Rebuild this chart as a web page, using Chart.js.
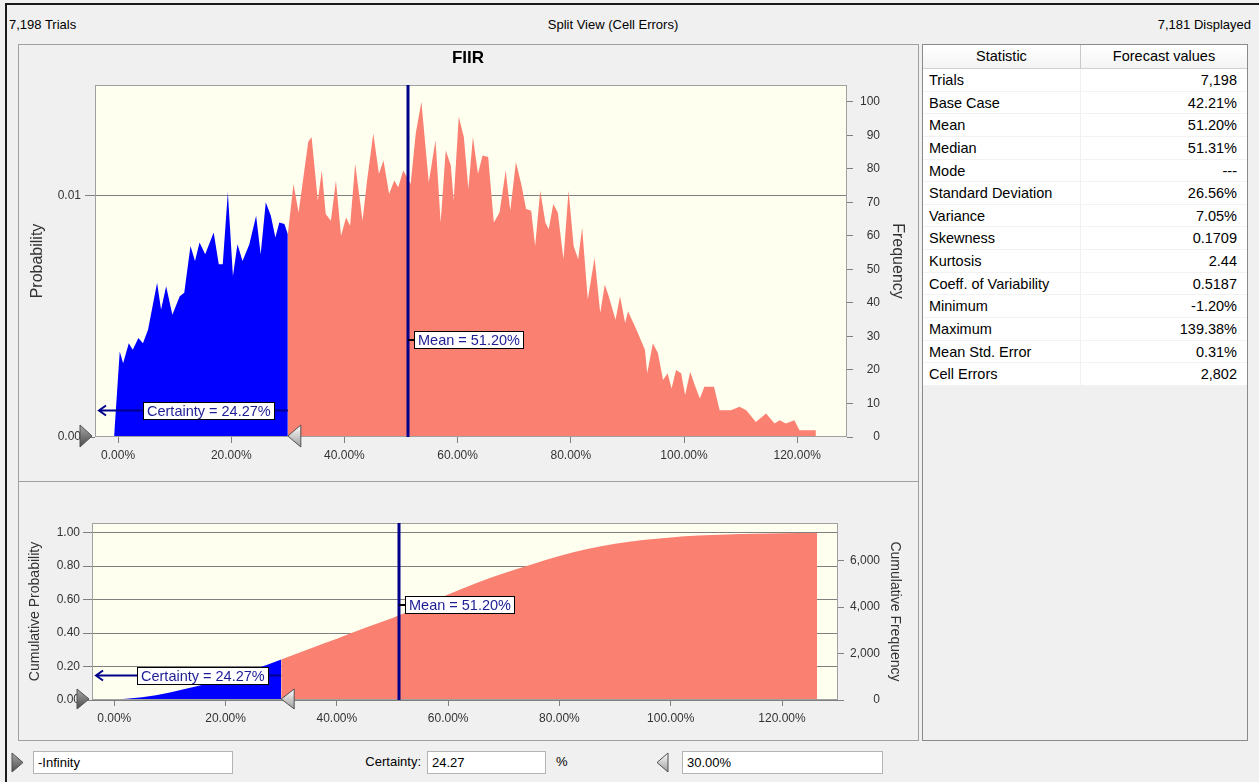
<!DOCTYPE html>
<html>
<head>
<meta charset="utf-8">
<title>FIIR</title>
<script src="https://cdn.jsdelivr.net/npm/chart.js@4.4.1/dist/chart.umd.min.js"></script>
<style>
  html, body { margin: 0; padding: 0; }
  body {
    width: 1259px; height: 782px; position: relative; overflow: hidden;
    background: #f0f0f0; color: #000;
    font-family: "Liberation Sans", Arial, sans-serif;
  }
  #frame { position: absolute; left: 5px; top: 3px; right: 0; bottom: 0;
           border-left: 2px solid #1a1a1a; border-top: 2px solid #1a1a1a; }
  .hdr { position: absolute; top: 17px; font-size: 13px; line-height: 16px; white-space: nowrap; }
  .panel { position: absolute; border: 1px solid #a0a0a0; box-sizing: border-box; }
  canvas { position: absolute; }
  #stats { position: absolute; left: 922px; top: 44px; width: 326px; height: 697px;
           border: 1px solid #8a8a8a; box-sizing: border-box; background: #f0f0f0; font-size: 14.5px; }
  #stats .row { display: flex; height: 22.65px; line-height: 22.65px; background: #fff;
                border-bottom: 1px solid #f2f2f2; box-sizing: border-box; }
  #stats .head { height: 24px; line-height: 23px; background: linear-gradient(#ffffff, #f4f4f4);
                 border-bottom: 1px solid #d0d0d0; }
  #stats .c1 { width: 158px; padding-left: 6px; box-sizing: border-box; border-right: 1px solid #f0f0f0; white-space: nowrap; }
  #stats .c2 { flex: 1; text-align: right; padding-right: 10px; white-space: nowrap; }
  #stats .head .c1 { text-align: center; padding-left: 0; border-right: 1px solid #c8c8c8; }
  #stats .head .c2 { text-align: center; padding-right: 0; }
  .field { position: absolute; top: 751px; height: 23px; background: #fff; border: 1px solid #b4b4b4;
           box-sizing: border-box; font-size: 13px; line-height: 21px; padding-left: 4px; white-space: nowrap; }
  .ctl { position: absolute; top: 754px; font-size: 13px; line-height: 16px; white-space: nowrap; }
  svg.grip { position: absolute; }
</style>
</head>
<body>
<div id="frame"></div>

<div class="hdr" id="trialsText" style="left:9px"></div>
<div class="hdr" style="left:0; width:1226px; text-align:center">Split View (Cell Errors)</div>
<div class="hdr" id="shownText" style="right:8px"></div>

<div class="panel" style="left:18px; top:44px; width:901px; height:438px"></div>
<div class="panel" style="left:18px; top:481px; width:901px; height:260px"></div>

<canvas id="pdfChart" width="900" height="436" style="left:18px; top:44px; width:900px; height:436px"></canvas>
<canvas id="cdfChart" width="900" height="258" style="left:18px; top:482px; width:900px; height:258px"></canvas>

<div id="stats"></div>

<svg class="grip" style="left:11px; top:752px" width="13" height="21" viewBox="0 0 13 21">
  <defs><linearGradient id="gDark" x1="0" y1="0" x2="0" y2="1">
    <stop offset="0" stop-color="#a8a8a8"/><stop offset="1" stop-color="#4c4c4c"/></linearGradient></defs>
  <path d="M1 1 L12 10.5 L1 20 Z" fill="url(#gDark)" stroke="#505050" stroke-width="1"/>
</svg>
<div class="field" id="lowField" style="left:33px; width:200px"></div>
<div class="ctl" style="left:340px; width:81px; text-align:right">Certainty:</div>
<div class="field" id="certField" style="left:427px; width:119px"></div>
<div class="ctl" style="left:556px">%</div>
<svg class="grip" style="left:656px; top:752px" width="13" height="21" viewBox="0 0 13 21">
  <defs><linearGradient id="gLight" x1="0" y1="0" x2="0" y2="1">
    <stop offset="0" stop-color="#ffffff"/><stop offset="1" stop-color="#9c9c9c"/></linearGradient></defs>
  <path d="M12 1 L1 10.5 L12 20 Z" fill="url(#gLight)" stroke="#505050" stroke-width="1"/>
</svg>
<div class="field" id="highField" style="left:682px; width:201px"></div>

<script>
// ---- forecast summary ----
const trials = 7198;
const displayed = 7181;
const meanPct = 51.20;
const certaintyPct = 24.27;
const certaintyLow = '-Infinity';
const certaintyHigh = 30;          // upper bound of the certainty range, in %

// ---- frequency histogram (bin position in %, trials per bin) ----
const binPct = [
  -0.7, 0.3, 0.9, 1.9, 2.6, 3.6, 4.4, 5.3, 6.9, 7.6, 8.5, 9.6, 10.9, 11.7, 12.8, 13.6,
  14.4, 15.4, 16.9, 17.8, 18.5, 19.4, 20.3, 21.1, 22.0, 23.2, 24.4, 25.2, 26.1, 27.0,
  27.8, 28.5, 29.4, 30.0,
  31.0, 31.9, 33.6, 34.2, 35.3, 36.0, 36.7, 37.6, 38.5, 39.4, 40.3, 41.0, 41.9, 43.2,
  44.0, 45.1, 46.1, 46.9, 47.9, 48.8, 49.5, 50.4, 51.7, 52.6, 53.6, 54.9, 56.1, 57.0,
  57.9, 58.8, 59.3, 60.2, 61.1, 61.9, 62.7, 63.6, 64.4, 65.4, 66.4, 67.4, 68.5, 69.3,
  70.3, 71.3, 72.1, 73.0, 73.7, 74.6, 75.5, 76.1, 76.9, 77.7, 78.7, 79.6, 80.5, 81.3,
  82.0, 83.0, 84.2, 85.2, 86.0, 86.7, 87.9, 88.7, 89.6, 90.1, 91.6, 93.1, 93.5, 94.5,
  95.4, 96.3, 97.1, 97.8, 98.6, 99.5, 100.2, 101.1, 101.9, 102.8, 103.6, 105.3, 106.3,
  108.3, 109.8, 111.0, 112.7, 114.5, 116.0, 116.9, 118.0, 119.5, 120.4, 123.3, 123.3
];
const binFreq = [
  0, 25.5, 22, 28, 26, 29.5, 28, 32, 46, 38, 45, 36.5, 42, 43, 57, 52.5,
  58, 54.5, 61, 51.5, 51.5, 73, 48, 57.5, 52.5, 57.5, 66, 54.5, 70, 66,
  59.5, 64, 63.5, 60.5,
  75.5, 67, 88, 89.5, 70.5, 79.5, 66.5, 64.5, 76.5, 60, 65.5, 63, 81.5, 64.5,
  76.5, 90.5, 78.5, 82.5, 72.5, 76.5, 74.5, 79.5, 75.5, 90.5, 100, 76, 88.5, 64,
  85.5, 81, 70.5, 95.5, 89.5, 74, 89.5, 78.5, 84, 83.5, 64, 67, 79.5, 67.5,
  82, 75, 68, 67.5, 57, 73.5, 64, 62, 69.5, 67, 53, 73.5, 57, 53,
  62.5, 41, 53.5, 37, 45.5, 42, 35, 42, 34, 37.5, 32, 26, 19, 28,
  25, 17, 19, 14.5, 20, 19, 12.5, 19.5, 15.5, 11.5, 15, 15, 8,
  8, 9, 8, 4.5, 7, 4, 5, 4, 5, 2, 2, 0
];

// ---- cumulative curve (position in %, cumulative probability) ----
const cumPct  = [-0.7, 5, 10, 15, 20, 25, 30, 35, 40, 45, 50, 55, 60, 65, 70, 75, 80, 85, 90, 95, 100, 105, 110, 115, 120, 126.3];
const cumProb = [0, 0.016, 0.045, 0.083, 0.127, 0.182, 0.2427, 0.305, 0.366, 0.430, 0.490, 0.560, 0.630, 0.698, 0.758,
                 0.810, 0.860, 0.902, 0.934, 0.956, 0.972, 0.983, 0.990, 0.994, 0.9965, 0.9976];

// ---- axis ticks ----
const xTicks = [0, 20, 40, 60, 80, 100, 120];
const probTicks = [0, 0.01];
const freqTicks = [0, 10, 20, 30, 40, 50, 60, 70, 80, 90, 100];
const cumProbTicks = [0, 0.2, 0.4, 0.6, 0.8, 1.0];
const cumFreqTicks = [0, 2000, 4000, 6000];

// ---- statistics table ----
const statNames = ['Trials', 'Base Case', 'Mean', 'Median', 'Mode', 'Standard Deviation', 'Variance',
  'Skewness', 'Kurtosis', 'Coeff. of Variability', 'Minimum', 'Maximum', 'Mean Std. Error', 'Cell Errors'];
const statValues = ['7,198', '42.21%', '51.20%', '51.31%', '---', '26.56%', '7.05%',
  '0.1709', '2.44', '0.5187', '-1.20%', '139.38%', '0.31%', '2,802'];

// ---------------------------------------------------------------------------
const fmtInt = v => Math.round(v).toLocaleString('en-US');
document.getElementById('trialsText').textContent = fmtInt(trials) + ' Trials';
document.getElementById('shownText').textContent = fmtInt(displayed) + ' Displayed';
document.getElementById('lowField').textContent = certaintyLow;
document.getElementById('certField').textContent = certaintyPct.toFixed(2);
document.getElementById('highField').textContent = certaintyHigh.toFixed(2) + '%';

const stats = document.getElementById('stats');
stats.innerHTML = '<div class="row head"><div class="c1">Statistic</div><div class="c2">Forecast values</div></div>' +
  statNames.map((n, i) => `<div class="row"><div class="c1">${n}</div><div class="c2">${statValues[i]}</div></div>`).join('');

const FONT = '"Liberation Sans", Arial, sans-serif';
Chart.defaults.font.family = FONT;
Chart.defaults.color = '#333';

const NAVY = '#00008b';
const TAG_TEXT = '#1d1d96';
const TAG_FONT = '14.5px ' + FONT;
const BLUE = '#0000ff';
const SALMON = '#fa8072';
const PLOT_BG = '#fffff0';
const GRID = '#7f7f7f';

const pdfPoints = binPct.map((x, i) => ({ x, y: binFreq[i] }));
const cdfPoints = cumPct.map((x, i) => ({ x, y: cumProb[i] }));
const inRange = p => p.x <= certaintyHigh;
const outRange = p => p.x >= certaintyHigh;

function tagWidth(ctx, text) {
  ctx.font = TAG_FONT;
  return Math.round(ctx.measureText(text).width + 8);
}

function drawTag(ctx, text, left, cy) {
  const w = tagWidth(ctx, text), h = 18;
  const top = Math.round(cy - h / 2);
  left = Math.round(left);
  ctx.fillStyle = '#fff';
  ctx.fillRect(left, top, w, h);
  ctx.strokeStyle = '#000';
  ctx.lineWidth = 1;
  ctx.strokeRect(left + 0.5, top + 0.5, w - 1, h - 1);
  ctx.font = TAG_FONT;
  ctx.fillStyle = TAG_TEXT;
  ctx.textAlign = 'left';
  ctx.textBaseline = 'middle';
  ctx.fillText(text, left + 4, top + h / 2 + 1);
}

function drawGrip(ctx, tipX, cy, dir, halfH, len, dark) {
  const baseX = tipX - dir * len;
  const g = ctx.createLinearGradient(0, cy - halfH, 0, cy + halfH);
  if (dark) { g.addColorStop(0, '#a8a8a8'); g.addColorStop(1, '#4a4a4a'); }
  else { g.addColorStop(0, '#ffffff'); g.addColorStop(1, '#9c9c9c'); }
  ctx.beginPath();
  ctx.moveTo(tipX, cy);
  ctx.lineTo(baseX, cy - halfH);
  ctx.lineTo(baseX, cy + halfH);
  ctx.closePath();
  ctx.fillStyle = g;
  ctx.fill();
  ctx.strokeStyle = '#505050';
  ctx.lineWidth = 1;
  ctx.stroke();
}

// plot background, frame, mean line, certainty marker and range grips
const forecastMarks = {
  id: 'forecastMarks',
  beforeDraw(chart) {
    const { ctx, chartArea: a } = chart;
    ctx.save();
    ctx.fillStyle = PLOT_BG;
    ctx.fillRect(a.left, a.top, a.width, a.height);
    ctx.restore();
  },
  afterDatasetsDraw(chart, args, o) {
    const { ctx, chartArea: a, scales } = chart;
    const xs = scales.x, ys = scales[o.axis];
    ctx.save();
    ctx.strokeStyle = '#a0a0a0';
    ctx.lineWidth = 1;
    ctx.strokeRect(a.left + 0.5, a.top + 0.5, a.width - 1, a.height - 1);

    // mean
    const mx = Math.round(xs.getPixelForValue(meanPct));
    ctx.strokeStyle = NAVY;
    ctx.lineWidth = 3;
    ctx.beginPath(); ctx.moveTo(mx, a.top); ctx.lineTo(mx, a.bottom); ctx.stroke();
    const my = Math.round(ys.getPixelForValue(o.meanTagAt));
    ctx.strokeStyle = '#000';
    ctx.lineWidth = 2;
    ctx.beginPath(); ctx.moveTo(mx, my); ctx.lineTo(mx + 6, my); ctx.stroke();
    drawTag(ctx, 'Mean = ' + meanPct.toFixed(2) + '%', mx + 6, my);

    // certainty range
    const cy = Math.round(ys.getPixelForValue(o.certTagAt)) + 0.5;
    const x0 = a.left + 4, x1 = xs.getPixelForValue(certaintyHigh);
    ctx.strokeStyle = NAVY;
    ctx.lineWidth = 2;
    ctx.beginPath(); ctx.moveTo(x0, cy); ctx.lineTo(x1, cy); ctx.stroke();
    ctx.beginPath(); ctx.moveTo(x0 + 7, cy - 5); ctx.lineTo(x0, cy); ctx.lineTo(x0 + 7, cy + 5); ctx.stroke();
    const text = 'Certainty = ' + certaintyPct.toFixed(2) + '%';
    drawTag(ctx, text, xs.getPixelForValue(o.certTagCenter) - tagWidth(ctx, text) / 2, cy);
    ctx.restore();
  },
  afterDraw(chart, args, o) {
    const { ctx, chartArea: a, scales } = chart;
    ctx.save();
    drawGrip(ctx, a.left - 3, a.bottom - 1, 1, o.gripHalf, 12, true);
    drawGrip(ctx, scales.x.getPixelForValue(certaintyHigh), a.bottom - 1, -1, o.gripHalf, 13, false);
    ctx.restore();
  }
};

const setTicks = values => scale => { scale.ticks = values.map(value => ({ value })); };
const fixWidth = w => scale => { scale.width = w; };
const fixHeight = h => scale => { scale.height = h; };

function xScale(min, max, height) {
  return {
    type: 'linear', min, max,
    afterBuildTicks: setTicks(xTicks),
    afterFit: fixHeight(height),
    border: { display: false },
    grid: { drawOnChartArea: false, tickLength: 6, tickColor: '#808080' },
    ticks: { padding: 5, font: { size: 12 }, color: '#333', callback: v => v.toFixed(2) + '%' }
  };
}

// ---- probability / frequency chart ----
new Chart(document.getElementById('pdfChart'), {
  type: 'line',
  data: {
    datasets: [
      { data: pdfPoints.filter(inRange), yAxisID: 'freq', fill: 'origin', backgroundColor: BLUE,
        borderWidth: 0, pointRadius: 0, tension: 0 },
      { data: pdfPoints.filter(outRange), yAxisID: 'freq', fill: 'origin', backgroundColor: SALMON,
        borderWidth: 0, pointRadius: 0, tension: 0 }
    ]
  },
  options: {
    responsive: false, animation: false, events: [],
    layout: { padding: 0 },
    plugins: {
      legend: { display: false }, tooltip: { enabled: false },
      title: { display: true, text: 'FIIR', color: '#000', font: { size: 17, weight: 'bold' },
               padding: { top: 4, bottom: 16.6 } },
      forecastMarks: { axis: 'freq', meanTagAt: 29, certTagAt: 8, certTagCenter: 16, gripHalf: 11 }
    },
    scales: {
      x: xScale(-4.07, 128.8, 43),
      prob: {
        type: 'linear', position: 'left', min: 0, max: 105 / trials,
        afterBuildTicks: setTicks(probTicks), afterFit: fixWidth(77),
        border: { display: false },
        grid: { color: c => (c.tick && c.tick.value === 0 ? 'rgba(0,0,0,0)' : GRID),
                tickColor: GRID, tickLength: 10 },
        ticks: { padding: 4, font: { size: 12 }, color: '#333', callback: v => v.toFixed(2) },
        title: { display: true, text: 'Probability', color: '#333', font: { size: 16 }, padding: 10 }
      },
      freq: {
        type: 'linear', position: 'right', weight: 1, min: 0, max: 105,
        afterBuildTicks: setTicks(freqTicks), afterFit: fixWidth(33),
        border: { display: false },
        grid: { drawOnChartArea: false, tickLength: 6, tickColor: '#808080' },
        ticks: { crossAlign: 'far', font: { size: 12 }, color: '#333' }
      },
      freqTitle: {
        type: 'linear', position: 'right', weight: 2, axis: 'y',
        afterFit: fixWidth(38),
        border: { display: false }, grid: { display: false }, ticks: { display: false },
        title: { display: true, text: 'Frequency', color: '#333', font: { size: 16 }, padding: 11 }
      }
    }
  },
  plugins: [forecastMarks]
});

// ---- cumulative chart ----
const cumMax = 1.058;
new Chart(document.getElementById('cdfChart'), {
  type: 'line',
  data: {
    datasets: [
      { data: cdfPoints.filter(inRange), yAxisID: 'cp', fill: 'origin', backgroundColor: BLUE,
        borderWidth: 0, pointRadius: 0, cubicInterpolationMode: 'monotone' },
      { data: cdfPoints.filter(outRange), yAxisID: 'cp', fill: 'origin', backgroundColor: SALMON,
        borderWidth: 0, pointRadius: 0, cubicInterpolationMode: 'monotone' }
    ]
  },
  options: {
    responsive: false, animation: false, events: [],
    layout: { padding: { top: 41 } },
    plugins: {
      legend: { display: false }, tooltip: { enabled: false },
      forecastMarks: { axis: 'cp', meanTagAt: 0.57, certTagAt: 0.15, certTagCenter: 16, gripHalf: 10 }
    },
    scales: {
      x: xScale(-4.0, 130.06, 40),
      cp: {
        type: 'linear', position: 'left', min: 0, max: cumMax,
        afterBuildTicks: setTicks(cumProbTicks), afterFit: fixWidth(74),
        border: { display: false },
        grid: { color: GRID, tickColor: GRID, tickLength: 9 },
        ticks: { padding: 3, font: { size: 12 }, color: '#333', callback: v => v.toFixed(2) },
        title: { display: true, text: 'Cumulative Probability', color: '#333', font: { size: 14 }, padding: 9 }
      },
      cf: {
        type: 'linear', position: 'right', weight: 1, min: 0, max: cumMax * trials,
        afterBuildTicks: setTicks(cumFreqTicks), afterFit: fixWidth(42),
        border: { display: false },
        grid: { drawOnChartArea: false, tickLength: 6, tickColor: '#808080' },
        ticks: { crossAlign: 'far', font: { size: 12 }, color: '#333', callback: v => fmtInt(v) }
      },
      cfTitle: {
        type: 'linear', position: 'right', weight: 2, axis: 'y',
        afterFit: fixWidth(38),
        border: { display: false }, grid: { display: false }, ticks: { display: false },
        title: { display: true, text: 'Cumulative Frequency', color: '#333', font: { size: 14 }, padding: 15 }
      }
    }
  },
  plugins: [forecastMarks]
});
</script>
</body>
</html>
